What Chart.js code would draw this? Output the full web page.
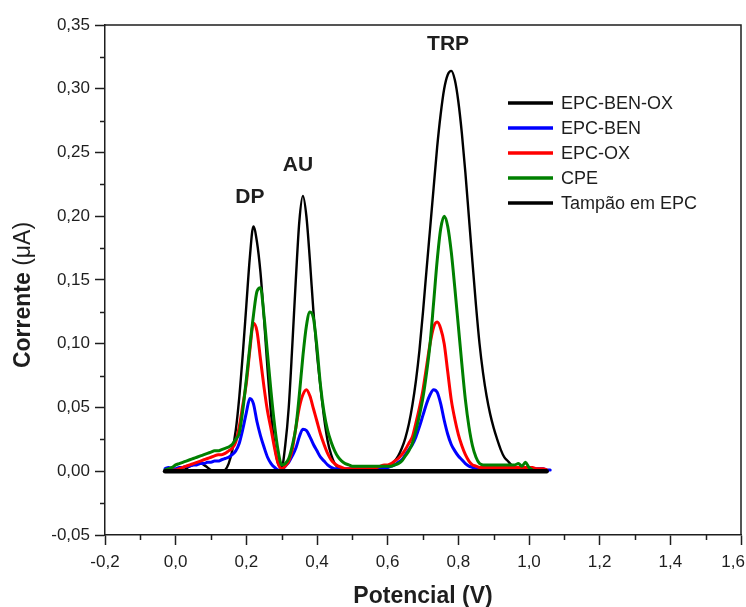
<!DOCTYPE html>
<html>
<head>
<meta charset="utf-8">
<script src="https://cdn.jsdelivr.net/npm/chart.js@4.4.1/dist/chart.umd.min.js"></script>
<style>
  html, body { margin: 0; padding: 0; background: #ffffff; }
  canvas { display: block; }
</style>
</head>
<body>
<canvas id="voltammogram" width="746" height="607"></canvas>
<script>
// Potential axis (V), sampled every 10 mV
const potencial = [
  -0.03, -0.02, -0.01, 0.00, 0.01, 0.02, 0.03, 0.04, 0.05, 0.06,
   0.07,  0.08,  0.09, 0.10, 0.11, 0.12, 0.13, 0.14, 0.15, 0.16,
   0.17,  0.18,  0.19, 0.20, 0.21, 0.22, 0.23, 0.24, 0.25, 0.26,
   0.27,  0.28,  0.29, 0.30, 0.31, 0.32, 0.33, 0.34, 0.35, 0.36,
   0.37,  0.38,  0.39, 0.40, 0.41, 0.42, 0.43, 0.44, 0.45, 0.46,
   0.47,  0.48,  0.49, 0.50, 0.51, 0.52, 0.53, 0.54, 0.55, 0.56,
   0.57,  0.58,  0.59, 0.60, 0.61, 0.62, 0.63, 0.64, 0.65, 0.66,
   0.67,  0.68,  0.69, 0.70, 0.71, 0.72, 0.73, 0.74, 0.75, 0.76,
   0.77,  0.78,  0.79, 0.80, 0.81, 0.82, 0.83, 0.84, 0.85, 0.86,
   0.87,  0.88,  0.89, 0.90, 0.91, 0.92, 0.93, 0.94, 0.95, 0.96,
   0.97,  0.98,  0.99, 1.00, 1.01, 1.02, 1.03, 1.04, 1.05, 1.06
];

// Current (µA) for each electrode
const epcBenOx = [
  0.000, 0.000, 0.000, 0.000, 0.000, 0.001, 0.002, 0.004, 0.005, 0.006,
  0.0065, 0.005, 0.003, 0.001, 0.000, 0.000, 0.000, 0.001, 0.006, 0.016,
  0.032, 0.058, 0.092, 0.130, 0.168, 0.192, 0.180, 0.156, 0.120, 0.080,
  0.045, 0.020, 0.006, 0.003, 0.020, 0.050, 0.098, 0.150, 0.196, 0.216,
  0.200, 0.165, 0.125, 0.092, 0.066, 0.042, 0.024, 0.013, 0.006, 0.003,
  0.001, 0.000, 0.000, 0.000, 0.000, 0.000, 0.000, 0.000, 0.000, 0.000,
  0.000, 0.001, 0.002, 0.003, 0.005, 0.008, 0.012, 0.018, 0.026, 0.037,
  0.052, 0.071, 0.095, 0.125, 0.158, 0.190, 0.222, 0.254, 0.280, 0.300,
  0.311, 0.314, 0.307, 0.290, 0.265, 0.234, 0.199, 0.164, 0.130, 0.100,
  0.077, 0.059, 0.045, 0.034, 0.025, 0.017, 0.011, 0.008, 0.005, 0.003,
  0.002, 0.001, 0.000, 0.000, 0.000, 0.000, null, null, null, null
];

const epcBen = [
  0.002, 0.003, 0.002, 0.002, 0.003, 0.003, 0.004, 0.004, 0.005, 0.005,
  0.006, 0.006, 0.007, 0.007, 0.008, 0.008, 0.009, 0.010, 0.011, 0.013,
  0.016, 0.022, 0.033, 0.046, 0.057, 0.053, 0.039, 0.028, 0.019, 0.011,
  0.006, 0.003, 0.001, 0.001, 0.004, 0.007, 0.012, 0.018, 0.027, 0.033,
  0.032, 0.027, 0.021, 0.016, 0.011, 0.008, 0.005, 0.003, 0.002, 0.002,
  0.002, 0.002, 0.002, 0.002, 0.002, 0.002, 0.002, 0.002, 0.002, 0.002,
  0.002, 0.003, 0.003, 0.003, 0.004, 0.005, 0.007, 0.009, 0.013, 0.017,
  0.021, 0.027, 0.035, 0.044, 0.053, 0.060, 0.064, 0.062, 0.053, 0.040,
  0.029, 0.021, 0.016, 0.012, 0.009, 0.006, 0.004, 0.003, 0.002, 0.002,
  0.002, 0.002, 0.002, 0.002, 0.002, 0.002, 0.002, 0.002, 0.002, 0.002,
  0.002, 0.002, 0.002, 0.002, 0.002, 0.002, 0.002, 0.002, 0.001, 0.001
];

const epcOx = [
  0.000, 0.000, 0.001, 0.001, 0.002, 0.003, 0.004, 0.005, 0.006, 0.007,
  0.008, 0.009, 0.010, 0.011, 0.012, 0.013, 0.013, 0.014, 0.016, 0.018,
  0.023, 0.035, 0.052, 0.069, 0.095, 0.116, 0.110, 0.088, 0.066, 0.047,
  0.033, 0.018, 0.006, 0.002, 0.004, 0.008, 0.017, 0.034, 0.050, 0.060,
  0.064, 0.059, 0.049, 0.039, 0.029, 0.021, 0.014, 0.009, 0.006, 0.004,
  0.003, 0.002, 0.002, 0.002, 0.002, 0.002, 0.002, 0.002, 0.002, 0.002,
  0.003, 0.004, 0.005, 0.005, 0.006, 0.008, 0.010, 0.013, 0.017, 0.022,
  0.027, 0.038, 0.050, 0.064, 0.082, 0.100, 0.113, 0.117, 0.112, 0.100,
  0.078, 0.056, 0.041, 0.029, 0.020, 0.013, 0.008, 0.005, 0.004, 0.003,
  0.003, 0.003, 0.003, 0.003, 0.003, 0.003, 0.003, 0.003, 0.003, 0.003,
  0.003, 0.003, 0.003, 0.003, 0.003, 0.002, 0.002, 0.002, 0.001, null
];

const cpe = [
  0.001, 0.002, 0.003, 0.005, 0.006, 0.007, 0.008, 0.009, 0.010, 0.011,
  0.012, 0.013, 0.014, 0.015, 0.016, 0.016, 0.017, 0.018, 0.019, 0.021,
  0.025, 0.030, 0.048, 0.072, 0.098, 0.122, 0.141, 0.144, 0.122, 0.092,
  0.062, 0.036, 0.016, 0.005, 0.006, 0.010, 0.020, 0.034, 0.060, 0.090,
  0.114, 0.125, 0.120, 0.097, 0.067, 0.046, 0.032, 0.023, 0.016, 0.011,
  0.008, 0.006, 0.005, 0.004, 0.004, 0.004, 0.004, 0.004, 0.004, 0.004,
  0.004, 0.004, 0.004, 0.004, 0.004, 0.005, 0.006, 0.008, 0.012, 0.016,
  0.022, 0.032, 0.044, 0.058, 0.077, 0.100, 0.132, 0.165, 0.190, 0.200,
  0.192, 0.172, 0.144, 0.114, 0.084, 0.056, 0.035, 0.020, 0.011, 0.006,
  0.005, 0.005, 0.005, 0.005, 0.005, 0.005, 0.005, 0.005, 0.005, 0.005,
  0.006, 0.004, 0.007, 0.003, 0.001, null, null, null, null, null
];

const tampao = [
  0, 0, 0, 0, 0, 0, 0, 0, 0, 0,
  0, 0, 0, 0, 0, 0, 0, 0, 0, 0,
  0, 0, 0, 0, 0, 0, 0, 0, 0, 0,
  0, 0, 0, 0, 0, 0, 0, 0, 0, 0,
  0, 0, 0, 0, 0, 0, 0, 0, 0, 0,
  0, 0, 0, 0, 0, 0, 0, 0, 0, 0,
  0, 0, 0, 0, 0, 0, 0, 0, 0, 0,
  0, 0, 0, 0, 0, 0, 0, 0, 0, 0,
  0, 0, 0, 0, 0, 0, 0, 0, 0, 0,
  0, 0, 0, 0, 0, 0, 0, 0, 0, 0,
  0, 0, 0, 0, 0, 0, 0, 0, 0, null
];

const seriesNames = ['EPC-BEN-OX', 'EPC-BEN', 'EPC-OX', 'CPE', 'Tampão em EPC'];

// Axis ticks
const xTicks = [-0.2, 0.0, 0.2, 0.4, 0.6, 0.8, 1.0, 1.2, 1.4, 1.6];
const xTickLabels = ['-0,2', '0,0', '0,2', '0,4', '0,6', '0,8', '1,0', '1,2', '1,4', '1,6'];
const xMinorTicks = [-0.1, 0.1, 0.3, 0.5, 0.7, 0.9, 1.1, 1.3, 1.5];
const yTicks = [-0.05, 0.00, 0.05, 0.10, 0.15, 0.20, 0.25, 0.30, 0.35];
const yTickLabels = ['-0,05', '0,00', '0,05', '0,10', '0,15', '0,20', '0,25', '0,30', '0,35'];
const yMinorTicks = [-0.025, 0.025, 0.075, 0.125, 0.175, 0.225, 0.275, 0.325];

// Peak names, anchored in data coordinates above each oxidation peak
const peakNames = ['DP', 'AU', 'TRP'];
const peakAnchors = [
  { x: 0.210, y: 0.215 },
  { x: 0.346, y: 0.240 },
  { x: 0.771, y: 0.335 }
];

const FONT = "'Liberation Sans', Arial, Helvetica, sans-serif";
const INK = '#1e1e1e';
const TICK_FONT_SIZE = 17;
Chart.defaults.font.family = FONT;
Chart.defaults.color = INK;

const toPoints = (ys) => potencial.map((x, i) => ({ x: x, y: ys[i] }));

const styles = [
  { color: '#000000', width: 2.4, order: 4 },
  { color: '#0000ff', width: 3,   order: 3 },
  { color: '#ff0000', width: 3,   order: 2 },
  { color: '#008000', width: 3,   order: 1 },
  { color: '#000000', width: 4.5, order: 0 }
];
const values = [epcBenOx, epcBen, epcOx, cpe, tampao];

const datasets = values.map((ys, i) => ({
  label: seriesNames[i],
  data: toPoints(ys),
  borderColor: styles[i].color,
  backgroundColor: styles[i].color,
  borderWidth: styles[i].width,
  order: styles[i].order,
  pointRadius: 0,
  fill: false,
  spanGaps: false
}));

const lastX = xTickLabels.length - 1;

// Box frame, minor ticks, edge tick label, axis titles, peak names and the legend
const decorations = {
  id: 'decorations',
  afterDraw(chart) {
    const ctx = chart.ctx;
    const area = chart.chartArea;
    const xs = chart.scales.x;
    const ys = chart.scales.y;
    ctx.save();

    // top and right sides of the frame
    ctx.strokeStyle = INK;
    ctx.lineWidth = 1.5;
    ctx.beginPath();
    ctx.moveTo(area.left, area.top);
    ctx.lineTo(area.right, area.top);
    ctx.lineTo(area.right, area.bottom);
    ctx.stroke();

    // minor ticks
    ctx.beginPath();
    xMinorTicks.forEach(v => {
      const px = Math.round(xs.getPixelForValue(v)) + 0.5;
      ctx.moveTo(px, area.bottom);
      ctx.lineTo(px, area.bottom + 5);
    });
    yMinorTicks.forEach(v => {
      const py = Math.round(ys.getPixelForValue(v)) + 0.5;
      ctx.moveTo(area.left, py);
      ctx.lineTo(area.left - 5, py);
    });
    ctx.stroke();

    // last x tick label, kept inside the canvas
    ctx.fillStyle = INK;
    ctx.font = TICK_FONT_SIZE + 'px ' + FONT;
    ctx.textAlign = 'right';
    ctx.textBaseline = 'middle';
    ctx.fillText(xTickLabels[lastX], chart.width - 1, area.bottom + 17 + TICK_FONT_SIZE * 0.6);

    // x title
    ctx.textAlign = 'center';
    ctx.textBaseline = 'middle';
    ctx.font = 'bold 23px ' + FONT;
    ctx.fillText('Potencial (V)', (area.left + area.right) / 2, 597);

    // y title (bold word, regular unit)
    ctx.save();
    ctx.translate(24, 295);
    ctx.rotate(-Math.PI / 2);
    const boldPart = 'Corrente ';
    const unitPart = '(\u03bcA)';
    ctx.font = 'bold 23px ' + FONT;
    const wb = ctx.measureText(boldPart).width;
    ctx.font = '23px ' + FONT;
    const wu = ctx.measureText(unitPart).width;
    const start = -(wb + wu) / 2;
    ctx.textAlign = 'left';
    ctx.font = 'bold 23px ' + FONT;
    ctx.fillText(boldPart, start, 0);
    ctx.font = '23px ' + FONT;
    ctx.fillText(unitPart, start + wb, 0);
    ctx.restore();

    // peak names
    ctx.font = 'bold 21px ' + FONT;
    ctx.textAlign = 'center';
    ctx.textBaseline = 'middle';
    peakNames.forEach((name, i) => {
      ctx.fillText(name, xs.getPixelForValue(peakAnchors[i].x), ys.getPixelForValue(peakAnchors[i].y));
    });

    // legend
    const lineX0 = 508, lineX1 = 553, textX = 561, rowY0 = 103, rowStep = 25;
    ctx.font = '18px ' + FONT;
    ctx.textAlign = 'left';
    ctx.textBaseline = 'middle';
    chart.data.datasets.forEach((ds, i) => {
      const y = rowY0 + i * rowStep;
      ctx.strokeStyle = ds.borderColor;
      ctx.lineWidth = 3.5;
      ctx.lineCap = 'butt';
      ctx.beginPath();
      ctx.moveTo(lineX0, y);
      ctx.lineTo(lineX1, y);
      ctx.stroke();
      ctx.fillStyle = INK;
      ctx.fillText(ds.label, textX, y + 1);
    });

    ctx.restore();
  }
};

new Chart(document.getElementById('voltammogram'), {
  type: 'line',
  data: { datasets: datasets },
  options: {
    responsive: false,
    animation: false,
    devicePixelRatio: 1,
    layout: { padding: { top: 25, right: 5, left: 0, bottom: 0 } },
    plugins: { legend: { display: false }, tooltip: { enabled: false } },
    elements: {
      point: { radius: 0 },
      line: { cubicInterpolationMode: 'monotone', borderJoinStyle: 'round', borderCapStyle: 'round' }
    },
    scales: {
      x: {
        type: 'linear',
        min: -0.2,
        max: 1.6,
        afterBuildTicks: (axis) => { axis.ticks = xTicks.map(v => ({ value: v })); },
        ticks: {
          // the rightmost label is drawn by the plugin so it stays on the canvas
          callback: (v, i) => (i === lastX ? '' : xTickLabels[i]),
          font: { size: TICK_FONT_SIZE },
          color: INK,
          padding: 7,
          maxRotation: 0,
          autoSkip: false
        },
        grid: { drawOnChartArea: false, tickLength: 10, tickWidth: 1.5, tickColor: INK },
        border: { color: INK, width: 1.5 },
        afterFit: (axis) => { axis.height = 72; axis.paddingLeft = 0; axis.paddingRight = 0; }
      },
      y: {
        type: 'linear',
        min: -0.05,
        max: 0.35,
        afterBuildTicks: (axis) => { axis.ticks = yTicks.map(v => ({ value: v })); },
        ticks: {
          callback: (v, i) => yTickLabels[i],
          font: { size: TICK_FONT_SIZE },
          color: INK,
          padding: 5,
          autoSkip: false
        },
        grid: { drawOnChartArea: false, tickLength: 10, tickWidth: 1.5, tickColor: INK },
        border: { color: INK, width: 1.5 },
        afterFit: (axis) => { axis.width = 105; axis.paddingTop = 0; axis.paddingBottom = 0; }
      }
    }
  },
  plugins: [decorations]
});
</script>
</body>
</html>
